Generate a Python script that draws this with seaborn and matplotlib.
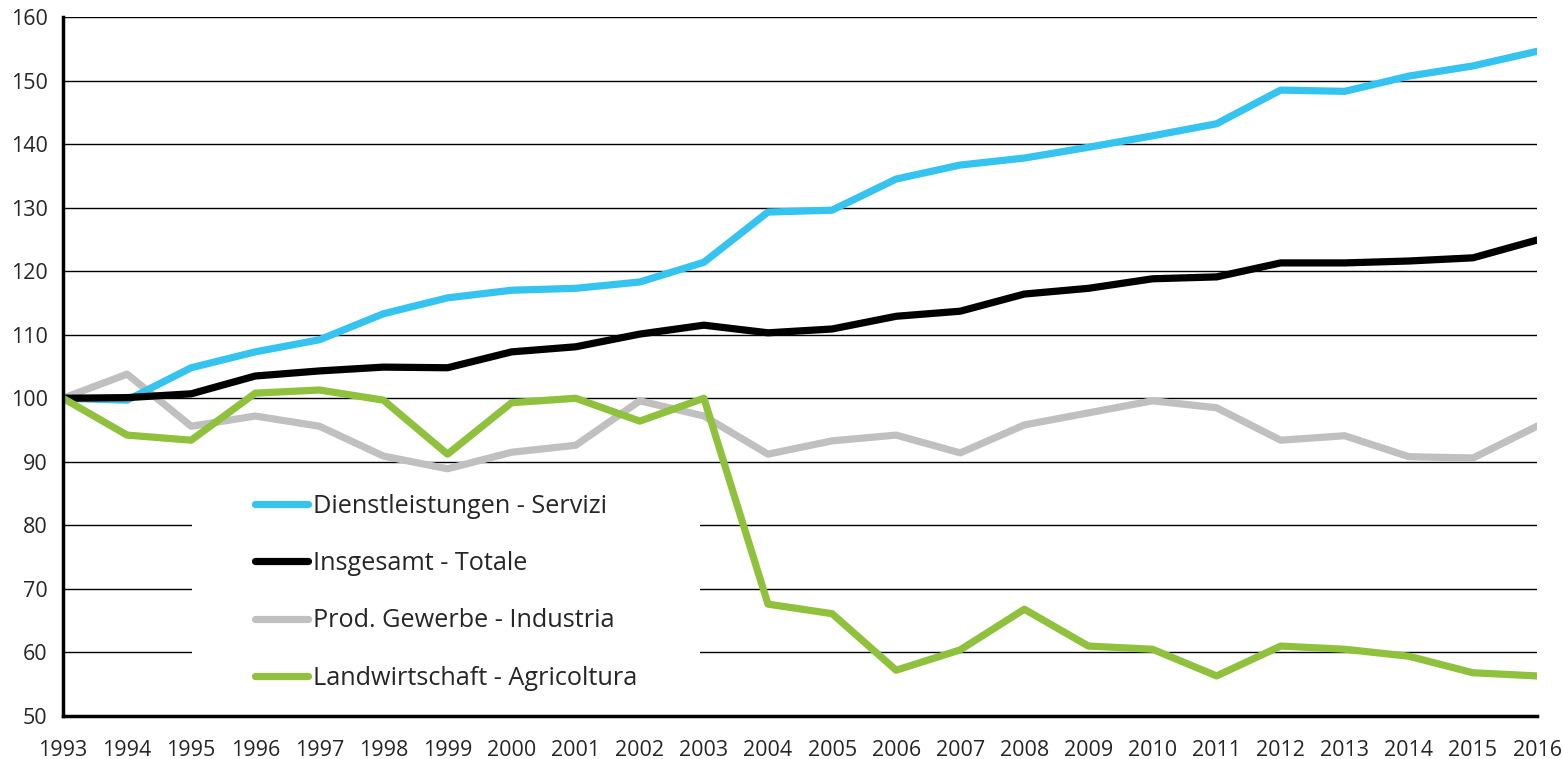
import pandas as pd
import matplotlib.pyplot as plt
import seaborn as sns

years = list(range(1993, 2017))

servizi = [100, 99.7, 104.8, 107.3, 109.2, 113.3, 115.8, 117.0, 117.3, 118.3, 121.4, 129.3,
           129.6, 134.5, 136.7, 137.8, 139.5, 141.3, 143.2, 148.5, 148.3, 150.7, 152.3, 154.6]
totale = [100, 100.1, 100.7, 103.5, 104.3, 104.9, 104.8, 107.3, 108.1, 110.1, 111.5, 110.3,
          110.9, 112.9, 113.7, 116.4, 117.3, 118.8, 119.1, 121.3, 121.3, 121.6, 122.1, 124.9]
industria = [100, 103.8, 95.6, 97.2, 95.6, 90.9, 88.9, 91.5, 92.6, 99.6, 97.2, 91.2,
             93.3, 94.2, 91.4, 95.8, 97.7, 99.6, 98.5, 93.4, 94.1, 90.8, 90.6, 95.6]
agricoltura = [100, 94.2, 93.4, 100.8, 101.3, 99.7, 91.2, 99.3, 100.0, 96.4, 100.0, 67.6,
               66.1, 57.2, 60.4, 66.8, 61.0, 60.5, 56.3, 61.0, 60.5, 59.4, 56.8, 56.3]

labels = ['Dienstleistungen - Servizi', 'Insgesamt - Totale',
          'Prod. Gewerbe - Industria', 'Landwirtschaft - Agricoltura']
colors = ['#35c3ef', '#000000', '#c0c0c0', '#8fc13c']

df = pd.DataFrame({'Jahr': years * 4,
                   'Wert': servizi + totale + industria + agricoltura,
                   'Serie': [l for l in labels for _ in years]})

sns.set_style('white')
plt.rcParams['font.family'] = ['Open Sans', 'DejaVu Sans']

fig = plt.figure(figsize=(15.63, 7.59), dpi=100)
ax = fig.add_axes([0.0403, 0.0567, 0.9431, 0.9209])

# drawing order: grey below, then blue, black, green on top
draw_order = [labels[2], labels[0], labels[1], labels[3]]
sns.lineplot(data=df, x='Jahr', y='Wert', hue='Serie', hue_order=draw_order,
             palette=dict(zip(labels, colors)), linewidth=5.2, ax=ax,
             solid_capstyle='round', solid_joinstyle='round', legend=False)

ax.set_xlim(1993, 2016)
ax.set_ylim(50, 160)
ax.set_xticks(years)
ax.set_yticks(range(50, 161, 10))
ax.set_xlabel('')
ax.set_ylabel('')
ax.yaxis.grid(True, color='black', linewidth=1.0)
ax.set_axisbelow(True)
for s in ['top', 'right']:
    ax.spines[s].set_visible(False)
for s in ['left', 'bottom']:
    ax.spines[s].set_color('black')
    ax.spines[s].set_linewidth(2.5)
ax.tick_params(axis='both', direction='out', length=7, width=2.5, color='black',
               labelsize=15.5, pad=4)
ax.tick_params(axis='x', pad=10)

# white box behind the legend hides the gridlines
ax.add_patch(plt.Rectangle((0.0875, 0.0), 0.3445, 0.352, transform=ax.transAxes,
                           facecolor='white', edgecolor='none', zorder=1.5))

handles = [plt.Line2D([], [], color=c, linewidth=5.2, solid_capstyle='round') for c in colors]
leg = ax.legend(handles, labels, loc='upper left', bbox_to_anchor=(0.130, 0.318),
                fontsize=18.2, frameon=False, handlelength=2.1, handletextpad=0.2,
                labelspacing=1.28, borderpad=0, borderaxespad=0)

fig.savefig('out.png', dpi=100)
